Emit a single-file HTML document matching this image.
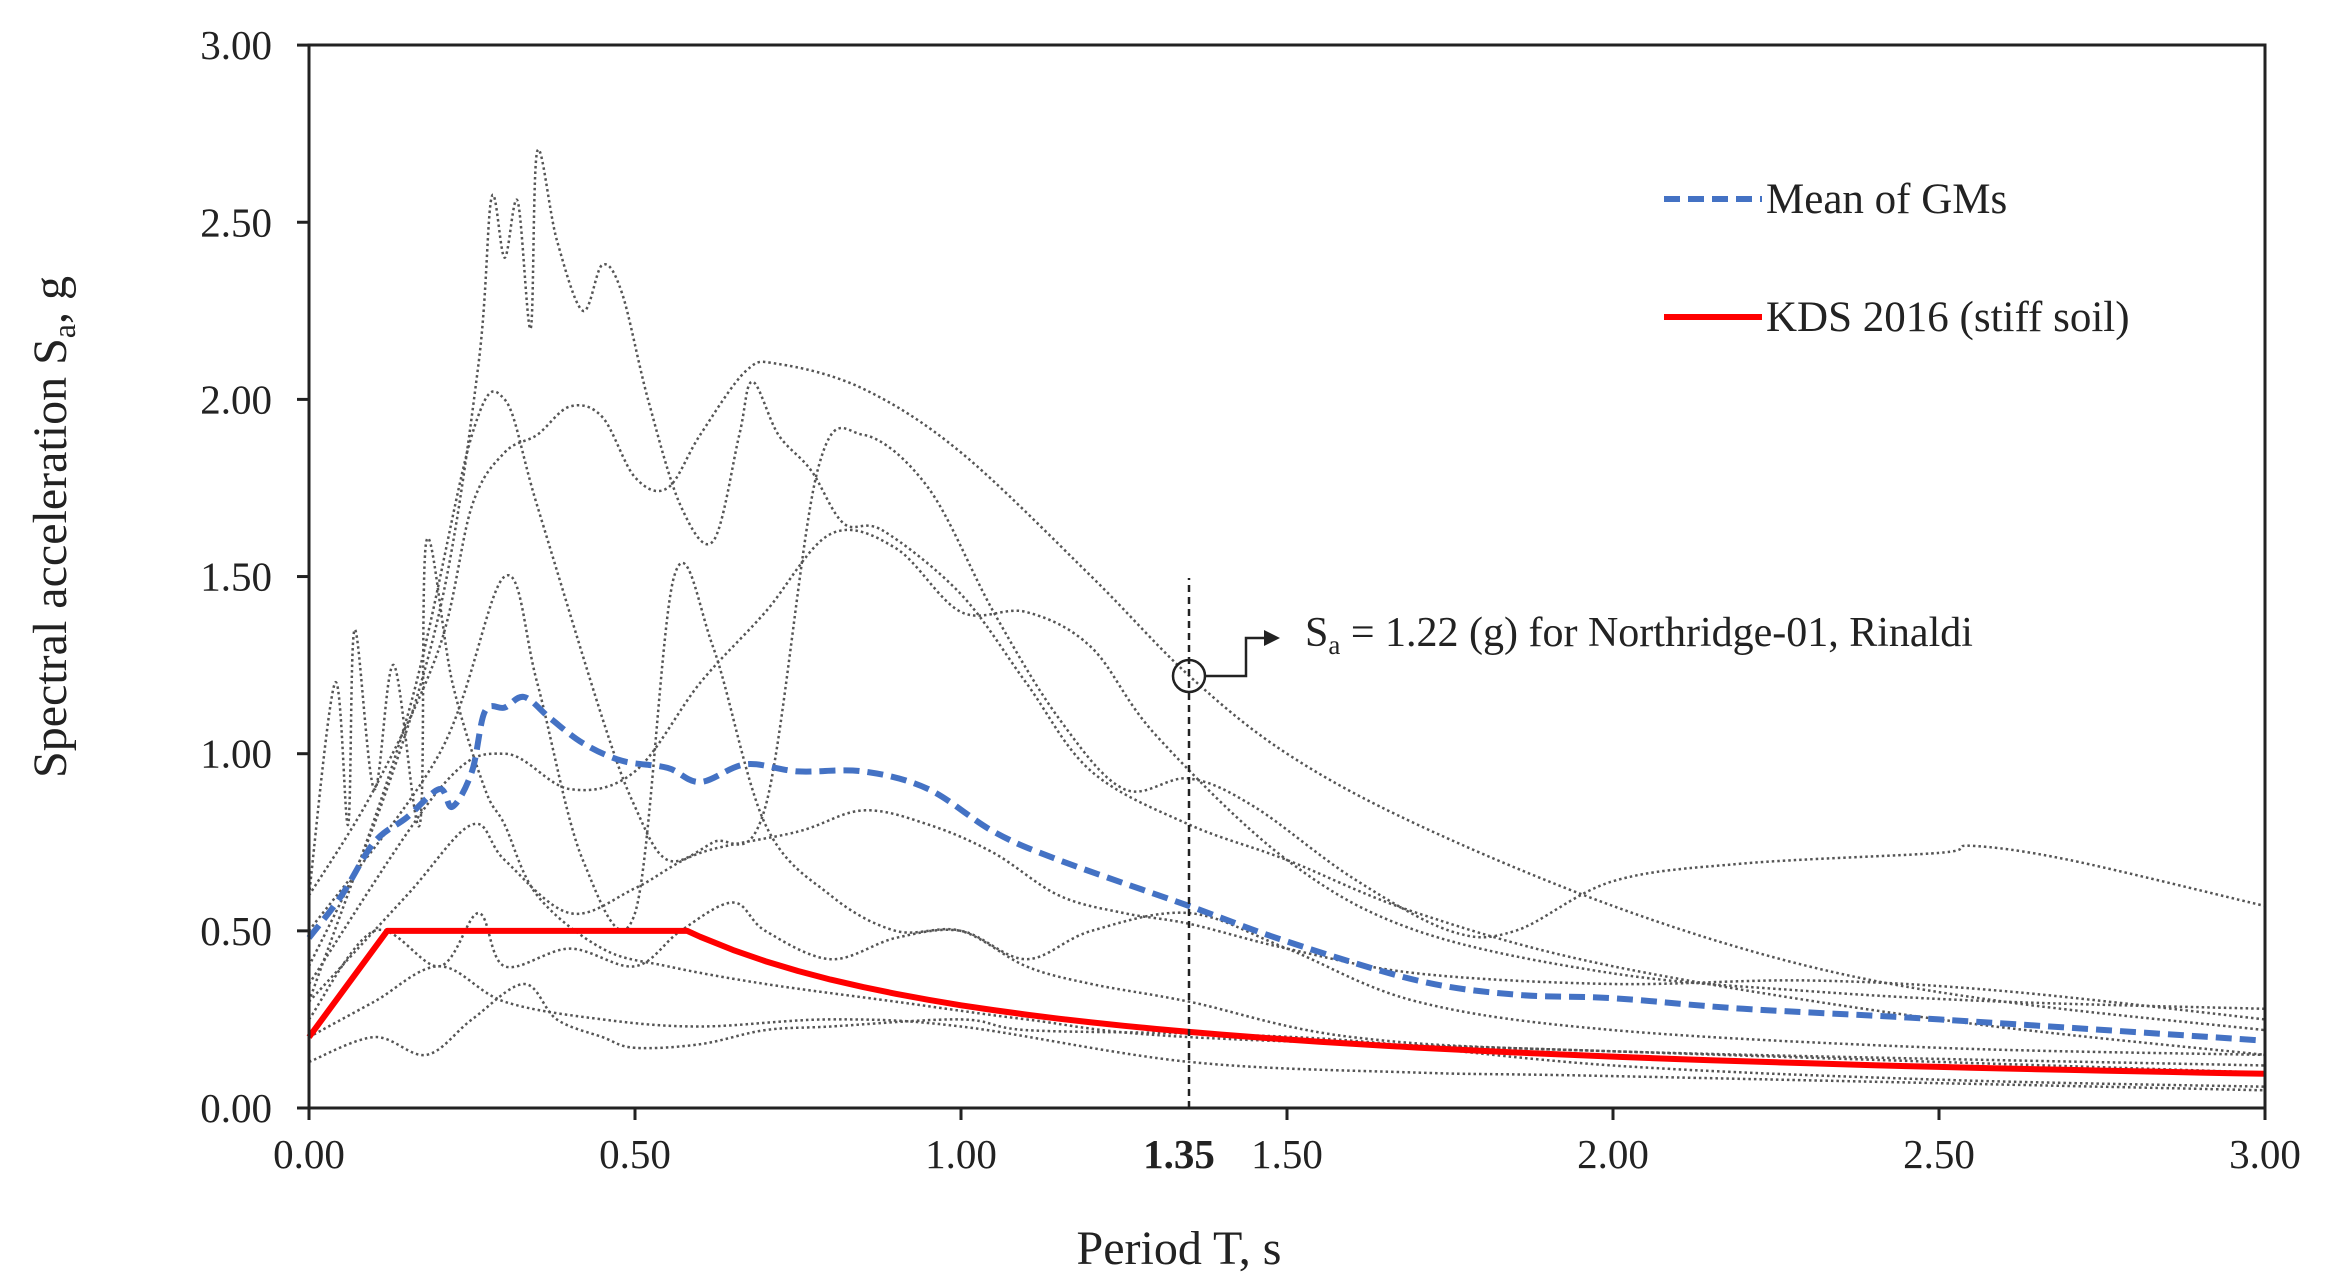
<!DOCTYPE html>
<html><head><meta charset="utf-8"><style>
html,body{margin:0;padding:0;background:#fff}
svg{display:block}
text{font-family:"Liberation Serif",serif;fill:#222}
</style></head><body>
<svg id="s" width="2325" height="1286" viewBox="0 0 2325 1286" xmlns="http://www.w3.org/2000/svg">
<g id="curves"></g>
<rect x="309" y="45" width="1956" height="1063" fill="none" stroke="#222" stroke-width="3"/>
<g id="ticks" stroke="#222" stroke-width="3"></g>
<g id="labels" font-size="41"></g>
<line x1="1189" y1="1108" x2="1189" y2="578" stroke="#222" stroke-width="2.5" stroke-dasharray="7,5"/>
<circle cx="1189" cy="676" r="16" fill="none" stroke="#222" stroke-width="2.5"/>
<polyline points="1205,676 1246,676 1246,638 1268,638" fill="none" stroke="#222" stroke-width="2.5"/>
<polygon points="1264,630 1280,638 1264,646" fill="#222"/>
<text x="1305" y="646" font-size="42">S<tspan font-size="27" dy="8">a</tspan><tspan dy="-8"> = 1.22 (g) for Northridge-01, Rinaldi</tspan></text>
<line x1="1664" y1="199" x2="1762" y2="199" stroke="#4472C4" stroke-width="6" stroke-dasharray="16,8"/>
<text x="1766" y="213" font-size="43">Mean of GMs</text>
<line x1="1664" y1="317" x2="1762" y2="317" stroke="#ff0000" stroke-width="6"/>
<text x="1766" y="331" font-size="43">KDS 2016 (stiff soil)</text>
<text x="1179" y="1168" font-size="41" font-weight="bold" text-anchor="middle">1.35</text>
<text x="1179" y="1264" font-size="48" text-anchor="middle">Period T, s</text>
<text transform="translate(66,527) rotate(-90)" font-size="48" text-anchor="middle">Spectral  acceleration  S<tspan font-size="32" dy="9">a</tspan><tspan dy="-9">, g</tspan></text>
</svg>
<script>
const X=t=>309+652*t, Y=s=>1108-354.3*s;
const NS="http://www.w3.org/2000/svg";
function path(pts,stroke,w,dash,smooth){const P=pts.map(a=>[X(a[0]),Y(a[1])]);
 let d="M"+P[0][0].toFixed(1)+","+P[0][1].toFixed(1);
 for(let i=0;i<P.length-1;i++){
  if(!smooth){d+="L"+P[i+1][0].toFixed(1)+","+P[i+1][1].toFixed(1);continue;}
  const p0=P[Math.max(0,i-1)],p1=P[i],p2=P[i+1],p3=P[Math.min(P.length-1,i+2)];
  const c1=[p1[0]+(p2[0]-p0[0])/6,p1[1]+(p2[1]-p0[1])/6],c2=[p2[0]-(p3[0]-p1[0])/6,p2[1]-(p3[1]-p1[1])/6];
  d+="C"+c1.map(v=>v.toFixed(1))+" "+c2.map(v=>v.toFixed(1))+" "+p2.map(v=>v.toFixed(1));}
 const p=document.createElementNS(NS,"path");p.setAttribute("d",d);
 p.setAttribute("fill","none");p.setAttribute("stroke",stroke);p.setAttribute("stroke-width",w);
 p.setAttribute("stroke-linejoin","round");
 if(dash)p.setAttribute("stroke-dasharray",dash);document.getElementById("curves").appendChild(p);}
const g=[
[[0,0.6],[0.1,0.9],[0.2,1.3],[0.25,1.7],[0.3,1.85],[0.35,1.9],[0.4,1.98],[0.45,1.95],[0.5,1.78],[0.55,1.75],[0.6,1.9],[0.67,2.08],[0.72,2.1],[0.85,2.03],[1.0,1.85],[1.2,1.5],[1.35,1.22],[1.5,1.0],[1.7,0.8],[2.0,0.57],[2.3,0.4],[2.6,0.3],[3,0.22]],
[[0,0.4],[0.1,0.8],[0.2,1.4],[0.26,2.1],[0.28,2.57],[0.3,2.4],[0.32,2.56],[0.34,2.2],[0.35,2.7],[0.38,2.45],[0.42,2.25],[0.45,2.38],[0.48,2.3],[0.52,2.0],[0.57,1.7],[0.62,1.6],[0.66,1.9],[0.68,2.05],[0.72,1.9],[0.77,1.8],[0.82,1.65],[0.88,1.63],[1.0,1.45],[1.1,1.2],[1.2,0.95],[1.35,0.8],[1.5,0.7],[1.7,0.55],[2,0.4],[2.5,0.25],[3,0.15]],
[[0,0.3],[0.15,1.1],[0.25,1.9],[0.3,2.0],[0.35,1.7],[0.45,1.1],[0.5,0.85],[0.55,0.7],[0.62,0.75],[0.7,0.85],[0.78,1.8],[0.85,1.9],[0.95,1.75],[1.05,1.4],[1.15,1.1],[1.25,0.9],[1.35,0.93],[1.45,0.85],[1.6,0.65],[1.75,0.5],[1.85,0.5],[2,0.64],[2.2,0.69],[2.5,0.72],[2.55,0.74],[2.7,0.7],[3,0.57]],
[[0,0.5],[0.2,1.0],[0.3,1.5],[0.35,1.2],[0.42,0.7],[0.5,0.55],[0.56,1.5],[0.62,1.3],[0.7,0.8],[0.8,0.6],[0.9,0.5],[1.0,0.5],[1.1,0.4],[1.2,0.35],[1.35,0.3],[1.6,0.2],[2,0.16],[3,0.12]],
[[0,0.35],[0.2,0.9],[0.3,1.0],[0.4,0.9],[0.5,0.95],[0.6,1.2],[0.7,1.4],[0.8,1.62],[0.9,1.58],[1.0,1.4],[1.1,1.4],[1.2,1.3],[1.3,1.05],[1.5,0.7],[1.7,0.5],[2,0.38],[2.3,0.33],[2.6,0.3],[3,0.28]],
[[0,0.3],[0.15,0.6],[0.25,0.8],[0.3,0.7],[0.4,0.55],[0.5,0.62],[0.6,0.72],[0.75,0.78],[0.85,0.84],[0.95,0.8],[1.05,0.72],[1.15,0.6],[1.25,0.55],[1.35,0.52],[1.5,0.45],[1.7,0.38],[2,0.35],[2.3,0.36],[2.6,0.33],[3,0.25]],
[[0,0.25],[0.1,0.5],[0.2,0.4],[0.26,0.55],[0.3,0.4],[0.4,0.45],[0.5,0.4],[0.57,0.5],[0.65,0.58],[0.7,0.5],[0.8,0.42],[0.9,0.48],[1.0,0.5],[1.1,0.42],[1.2,0.5],[1.35,0.55],[1.5,0.45],[1.7,0.3],[2,0.22],[2.5,0.17],[3,0.15]],
[[0,0.13],[0.1,0.2],[0.18,0.15],[0.25,0.25],[0.33,0.35],[0.38,0.25],[0.45,0.2],[0.5,0.17],[0.6,0.18],[0.7,0.22],[0.8,0.23],[1.0,0.25],[1.1,0.22],[1.35,0.21],[1.6,0.19],[2,0.12],[2.5,0.08],[3,0.06]],
[[0,0.2],[0.1,0.3],[0.2,0.4],[0.3,0.3],[0.45,0.25],[0.6,0.23],[0.8,0.25],[1.0,0.23],[1.35,0.13],[1.7,0.1],[2,0.09],[3,0.05]],
[[0,0.6],[0.04,1.2],[0.06,0.8],[0.07,1.35],[0.1,0.9],[0.13,1.25],[0.17,0.8],[0.18,1.6],[0.22,1.2],[0.27,0.9],[0.3,0.8],[0.35,0.6],[0.45,0.45],[0.55,0.4],[0.7,0.35],[0.9,0.3],[1.1,0.25],[1.35,0.2],[2,0.16],[3,0.1]]
];
g.forEach(c=>path(c,"#555",2.5,"2.5,3",true));
const kds=[[0,0.2],[0.12,0.5],[0.58,0.5]];for(let t=0.6;t<=3.001;t+=0.05)kds.push([t,0.29/t]);
path([[0,0.48],[0.05,0.6],[0.1,0.75],[0.15,0.82],[0.2,0.9],[0.22,0.85],[0.25,0.95],[0.27,1.12],[0.3,1.13],[0.33,1.16],[0.37,1.1],[0.42,1.03],[0.48,0.98],[0.55,0.96],[0.6,0.92],[0.67,0.97],[0.75,0.95],[0.85,0.95],[0.95,0.9],[1.05,0.78],[1.15,0.7],[1.35,0.57],[1.5,0.47],[1.7,0.36],[1.85,0.32],[2,0.31],[2.2,0.28],[2.5,0.25],[3,0.19]],"#4472C4",6,"16,8",true);
path(kds,"#ff0000",6,null,false);
const tk=document.getElementById("ticks"),lb=document.getElementById("labels");
for(let i=0;i<=6;i++){const v=i*0.5;
 let l=document.createElementNS(NS,"line");l.setAttribute("x1",297);l.setAttribute("x2",309);l.setAttribute("y1",Y(v));l.setAttribute("y2",Y(v));tk.appendChild(l);
 l=document.createElementNS(NS,"line");l.setAttribute("x1",X(v));l.setAttribute("x2",X(v));l.setAttribute("y1",1108);l.setAttribute("y2",1120);tk.appendChild(l);
 let t=document.createElementNS(NS,"text");t.setAttribute("x",272);t.setAttribute("y",Y(v)+14);t.setAttribute("text-anchor","end");t.textContent=v.toFixed(2);lb.appendChild(t);
 t=document.createElementNS(NS,"text");t.setAttribute("x",X(v));t.setAttribute("y",1168);t.setAttribute("text-anchor","middle");t.textContent=v.toFixed(2);lb.appendChild(t);}
</script>
</body></html>
